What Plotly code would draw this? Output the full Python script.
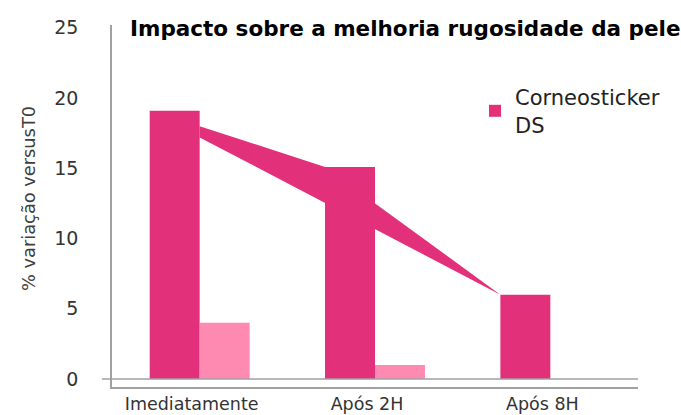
import plotly.graph_objects as go

categories = ["Imediatamente", "Após 2H", "Após 8H"]
corneo_values = [19.1, 15.1, 6.0]
light_values = [4.0, 1.0, 0.0]
band_upper = [18.0, 15.1, 6.0]
band_lower = [17.2, 6.0]
y_ticks = [0, 5, 10, 15, 20, 25]

DARK = "#E2307A"
LIGHT = "#FE8AB1"
GAP = 0.43
half = (1 - GAP) / 2
xs = list(range(len(categories)))
FONT = "DejaVu Sans"

fig = go.Figure()
fig.add_trace(go.Bar(x=xs, y=corneo_values, name="Corneosticker<br>DS",
                     marker=dict(color=DARK, line=dict(width=0)), showlegend=True))
fig.add_trace(go.Bar(x=xs, y=light_values, name="DS",
                     marker=dict(color=LIGHT, line=dict(width=0)), showlegend=False))

# band connecting bar tops
bx = [xs[0], xs[1] - half, xs[2] - half]
poly_x = bx + [bx[2], bx[0]]
poly_y = band_upper + [band_lower[1], band_lower[0]]
fig.add_trace(go.Scatter(x=poly_x, y=poly_y, fill="toself", fillcolor=DARK,
                         mode="lines", line=dict(width=0, color=DARK),
                         showlegend=False, hoverinfo="skip"))

fig.add_shape(type="line", xref="paper", yref="y", x0=-0.019, x1=1, y0=0, y1=0,
              line=dict(color="#A0A0A0", width=1.5))

fig.add_annotation(text="% variação versusT0", textangle=-90, showarrow=False,
                   xref="paper", yref="paper", x=(28-112)/526, y=(387-199)/362,
                   xanchor="center", yanchor="middle",
                   font=dict(size=17.8, color="#404040", family=FONT))

fig.update_layout(
    width=681, height=415,
    margin=dict(l=112, r=43, t=25, b=28, autoexpand=False),
    paper_bgcolor="white", plot_bgcolor="white",
    barmode="group", bargap=GAP, bargroupgap=0,
    font=dict(family=FONT, color="#333333"),
    title=dict(text="<b>Impacto sobre a melhoria rugosidade da pele</b>",
               x=130/681, xanchor="left", xref="container",
               y=1 - 28/415, yanchor="middle", yref="container",
               font=dict(size=21.5, color="#000000", family=FONT)),
    legend=dict(x=(475-112)/526, y=(387-77)/362, xanchor="left", yanchor="top",
                font=dict(size=21, color="#222222"), bgcolor="rgba(0,0,0,0)"),
    xaxis=dict(range=[-0.5, 2.5], tickvals=xs, ticktext=categories,
               showline=True, linecolor="#A0A0A0", linewidth=1.5, automargin=False,
               showgrid=False, zeroline=False, ticks="", ticklabelshift=-8,
               tickfont=dict(size=17.5, color="#333333")),
    yaxis=dict(range=[-0.57, 25.2], tickvals=y_ticks, showline=True, automargin=False,
               linecolor="#A0A0A0", linewidth=1.5, showgrid=False, zeroline=False,
               ticks="", ticklabelstandoff=28,
               tickfont=dict(size=19, color="#333333")),
)

fig.write_html("out.html", config={"displayModeBar": False},
               post_script="document.body.style.margin='0';document.body.style.overflow='hidden';")
